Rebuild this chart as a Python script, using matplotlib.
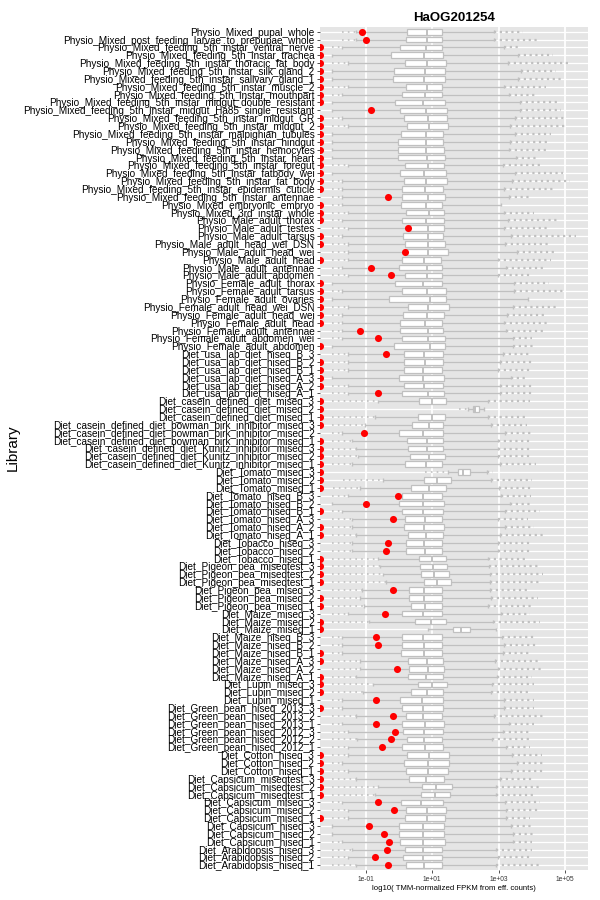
import numpy as np
import matplotlib
matplotlib.use("Agg")
import matplotlib.pyplot as plt
from matplotlib.ticker import FixedLocator, FixedFormatter, NullLocator
from matplotlib.textpath import TextPath
from matplotlib.font_manager import FontProperties

plt.rcParams['font.family'] = ['Liberation Sans', 'DejaVu Sans']

Z = float('-inf')  # zero expression -> plotted at -Inf (panel edge)

libraries = [
    "Physio_Mixed_pupal_whole",
    "Physio_Mixed_post_feeding_larvae_to_prepupae_whole",
    "Physio_Mixed_feeding_5th_instar_ventral_nerve",
    "Physio_Mixed_feeding_5th_instar_trachea",
    "Physio_Mixed_feeding_5th_instar_thoracic_fat_body",
    "Physio_Mixed_feeding_5th_instar_silk_gland_2",
    "Physio_Mixed_feeding_5th_instar_salivary_gland_1",
    "Physio_Mixed_feeding_5th_instar_muscle_2",
    "Physio_Mixed_feeding_5th_instar_mouthpart",
    "Physio_Mixed_feeding_5th_instar_midgut_double_resistant",
    "Physio_Mixed_feeding_5th_instar_midgut_Ha85_single_resistant",
    "Physio_Mixed_feeding_5th_instar_midgut_GR",
    "Physio_Mixed_feeding_5th_instar_midgut_2",
    "Physio_Mixed_feeding_5th_instar_malpighian_tubules",
    "Physio_Mixed_feeding_5th_instar_hindgut",
    "Physio_Mixed_feeding_5th_instar_hemocytes",
    "Physio_Mixed_feeding_5th_instar_heart",
    "Physio_Mixed_feeding_5th_instar_foregut",
    "Physio_Mixed_feeding_5th_instar_fatbody_wei",
    "Physio_Mixed_feeding_5th_instar_fat_body",
    "Physio_Mixed_feeding_5th_instar_epidermis_cuticle",
    "Physio_Mixed_feeding_5th_instar_antennae",
    "Physio_Mixed_embryonic_embryo",
    "Physio_Mixed_3rd_instar_whole",
    "Physio_Male_adult_thorax",
    "Physio_Male_adult_testes",
    "Physio_Male_adult_tarsus",
    "Physio_Male_adult_head_wei_DSN",
    "Physio_Male_adult_head_wei",
    "Physio_Male_adult_head",
    "Physio_Male_adult_antennae",
    "Physio_Male_adult_abdomen",
    "Physio_Female_adult_thorax",
    "Physio_Female_adult_tarsus",
    "Physio_Female_adult_ovaries",
    "Physio_Female_adult_head_wei_DSN",
    "Physio_Female_adult_head_wei",
    "Physio_Female_adult_head",
    "Physio_Female_adult_antennae",
    "Physio_Female_adult_abdomen_wei",
    "Physio_Female_adult_abdomen",
    "Diet_usa_lab_diet_hiseq_B_3",
    "Diet_usa_lab_diet_hiseq_B_2",
    "Diet_usa_lab_diet_hiseq_B_1",
    "Diet_usa_lab_diet_hiseq_A_3",
    "Diet_usa_lab_diet_hiseq_A_2",
    "Diet_usa_lab_diet_hiseq_A_1",
    "Diet_casein_defined_diet_miseq_3",
    "Diet_casein_defined_diet_miseq_2",
    "Diet_casein_defined_diet_miseq_1",
    "Diet_casein_defined_diet_bowman_birk_inhibitor_miseq_3",
    "Diet_casein_defined_diet_bowman_birk_inhibitor_miseq_2",
    "Diet_casein_defined_diet_bowman_birk_inhibitor_miseq_1",
    "Diet_casein_defined_diet_Kunitz_inhibitor_miseq_3",
    "Diet_casein_defined_diet_Kunitz_inhibitor_miseq_2",
    "Diet_casein_defined_diet_Kunitz_inhibitor_miseq_1",
    "Diet_Tomato_miseq_3",
    "Diet_Tomato_miseq_2",
    "Diet_Tomato_miseq_1",
    "Diet_Tomato_hiseq_B_3",
    "Diet_Tomato_hiseq_B_2",
    "Diet_Tomato_hiseq_B_1",
    "Diet_Tomato_hiseq_A_3",
    "Diet_Tomato_hiseq_A_2",
    "Diet_Tomato_hiseq_A_1",
    "Diet_Tobacco_hiseq_3",
    "Diet_Tobacco_hiseq_2",
    "Diet_Tobacco_hiseq_1",
    "Diet_Pigeon_pea_miseqtest_3",
    "Diet_Pigeon_pea_miseqtest_2",
    "Diet_Pigeon_pea_miseqtest_1",
    "Diet_Pigeon_pea_miseq_3",
    "Diet_Pigeon_pea_miseq_2",
    "Diet_Pigeon_pea_miseq_1",
    "Diet_Maize_miseq_3",
    "Diet_Maize_miseq_2",
    "Diet_Maize_miseq_1",
    "Diet_Maize_hiseq_B_3",
    "Diet_Maize_hiseq_B_2",
    "Diet_Maize_hiseq_B_1",
    "Diet_Maize_hiseq_A_3",
    "Diet_Maize_hiseq_A_2",
    "Diet_Maize_hiseq_A_1",
    "Diet_Lupin_miseq_3",
    "Diet_Lupin_miseq_2",
    "Diet_Lupin_miseq_1",
    "Diet_Green_bean_hiseq_2013_3",
    "Diet_Green_bean_hiseq_2013_2",
    "Diet_Green_bean_hiseq_2013_1",
    "Diet_Green_bean_hiseq_2012_3",
    "Diet_Green_bean_hiseq_2012_2",
    "Diet_Green_bean_hiseq_2012_1",
    "Diet_Cotton_hiseq_3",
    "Diet_Cotton_hiseq_2",
    "Diet_Cotton_hiseq_1",
    "Diet_Capsicum_miseqtest_3",
    "Diet_Capsicum_miseqtest_2",
    "Diet_Capsicum_miseqtest_1",
    "Diet_Capsicum_miseq_3",
    "Diet_Capsicum_miseq_2",
    "Diet_Capsicum_miseq_1",
    "Diet_Capsicum_hiseq_3",
    "Diet_Capsicum_hiseq_2",
    "Diet_Capsicum_hiseq_1",
    "Diet_Arabidopsis_hiseq_3",
    "Diet_Arabidopsis_hiseq_2",
    "Diet_Arabidopsis_hiseq_1",
]

# log10 values (top row first)
low_outlier_min = [-1.72, -1.72, -2.03, -2.03, -2.03, -2.03, -2.03, -2.03, -2.03, -2.03,
                   -2.03, -2.03, -2.03, -2.03, -2.03, -2.03, -2.03, -2.03, -2.03, -2.03,
                   -2.03, -2.03, -2.03, -2.03, -2.03, -2.03, -2.03, -2.03, -2.03, -2.03,
                   -2.03, -2.03, -2.03, -2.03, -2.03, -2.03, -2.03, -2.03, -2.03, -2.03,
                   -2.03, -2.03, -2.03, -2.03, -2.03, -2.03, -2.03, -2.03, 1.82, -2.03,
                   -2.03, -2.03, -2.03, -2.03, -2.03, -2.03, 0.78, -1.70, -2.00, -2.03,
                   -2.03, -2.03, -2.03, -2.03, -2.03, -2.03, -2.03, -2.03, -2.03, -2.03,
                   -2.03, -2.03, -2.03, -2.03, -2.03, -2.03, 0.88, -2.03, -2.03, -2.03,
                   -2.03, -2.03, -2.03, -2.03, -2.03, -2.03, -2.03, -2.03, -2.03, -2.03,
                   -2.03, -2.03, -2.03, -2.03, -2.03, -2.03, -2.03, -2.03, -2.03, -2.03,
                   -2.03, -2.03, -2.03, -2.03, -2.03, -2.03, -2.03]
whisker_low = [-1.29, -1.31, -1.72, -2.03, -1.54, -2.03, -2.03, -1.54, -1.72, -2.03,
               -2.03, -1.72, -1.54, -2.03, -2.03, -2.03, -2.03, -1.54, -2.03, -1.72,
               -1.72, -1.72, -1.72, -1.54, -1.72, -1.54, -1.72, -1.54, -1.54, -1.54,
               -1.72, -1.54, -2.03, -1.72, -2.03, -1.54, -1.72, -1.72, -1.72, -1.72,
               -2.03, -1.54, -1.54, -1.54, -2.03, -1.54, -1.54, -0.62, 2.07, -0.71,
               -1.03, -1.72, -1.43, -1.31, -1.23, -1.43, 1.46, -0.47, -1.17, -1.54,
               -2.03, -1.72, -1.43, -1.43, -1.31, -1.43, -1.43, -0.62, -0.56, -0.48,
               -0.39, -1.12, -1.17, -1.06, -1.54, -0.91, 0.88, -1.72, -1.72, -1.72,
               -1.17, -1.17, -1.31, -0.77, -1.08, -1.72, -1.72, -1.31, -1.72, -1.54,
               -1.26, -1.54, -1.54, -1.72, -1.54, -1.31, -0.62, -0.71, -1.72, -1.54,
               -1.54, -2.03, -2.03, -1.72, -1.43, -1.54, -1.31]
q1 = [0.23, 0.21, 0.04, -0.23, 0.17, -0.16, -0.18, 0.21, 0.09, -0.11,
      0.03, 0.14, 0.23, 0.06, -0.02, -0.02, -0.02, 0.17, 0.03, 0.14,
      0.09, 0.09, 0.06, 0.21, 0.09, 0.27, 0.13, 0.19, 0.19, 0.09,
      0.00, 0.17, -0.11, 0.09, -0.30, 0.26, 0.13, 0.03, 0.03, 0.09,
      -0.14, 0.15, 0.15, 0.15, 0.00, 0.15, 0.09, 0.61, 2.23, 0.56,
      0.38, 0.00, 0.23, 0.27, 0.33, 0.17, 1.78, 0.76, 0.37, 0.10,
      0.00, 0.09, 0.19, 0.14, 0.27, 0.21, 0.21, 0.59, 0.64, 0.67,
      0.74, 0.30, 0.30, 0.35, 0.09, 0.48, 1.63, 0.09, 0.09, 0.06,
      0.28, 0.29, 0.26, 0.56, 0.36, 0.03, 0.09, 0.21, 0.09, 0.12,
      0.23, 0.09, 0.23, 0.15, 0.21, 0.29, 0.69, 0.65, 0.06, 0.21,
      0.17, 0.00, 0.00, 0.04, 0.17, 0.12, 0.21]
median = [0.84, 0.84, 0.81, 0.75, 0.84, 0.79, 0.76, 0.84, 0.79, 0.73,
          0.81, 0.87, 0.90, 0.81, 0.81, 0.82, 0.84, 0.88, 0.76, 0.82,
          0.79, 0.87, 0.81, 0.90, 0.81, 0.88, 0.87, 0.87, 0.87, 0.75,
          0.84, 0.84, 0.71, 0.84, 0.92, 0.88, 0.84, 0.79, 0.87, 0.87,
          0.92, 0.76, 0.79, 0.71, 0.73, 0.76, 0.87, 1.00, 2.28, 1.00,
          0.90, 0.73, 0.84, 0.84, 0.90, 0.81, 1.93, 1.15, 0.90, 0.71,
          0.71, 0.73, 0.79, 0.76, 0.82, 0.75, 0.79, 0.99, 1.02, 1.05,
          1.13, 0.75, 0.76, 0.79, 0.71, 0.96, 1.88, 0.73, 0.75, 0.75,
          0.84, 0.87, 0.81, 0.99, 0.84, 0.69, 0.73, 0.73, 0.79, 0.76,
          0.76, 0.79, 0.90, 0.87, 0.88, 0.82, 1.11, 1.07, 0.65, 0.84,
          0.84, 0.71, 0.71, 0.73, 0.71, 0.71, 0.75]
q3 = [1.28, 1.28, 1.28, 1.33, 1.41, 1.39, 1.37, 1.28, 1.30, 1.39,
      1.45, 1.45, 1.48, 1.33, 1.33, 1.36, 1.39, 1.36, 1.41, 1.43,
      1.33, 1.39, 1.28, 1.36, 1.36, 1.36, 1.33, 1.39, 1.48, 1.25,
      1.28, 1.28, 1.30, 1.42, 1.42, 1.50, 1.36, 1.28, 1.33, 1.39,
      1.39, 1.33, 1.33, 1.28, 1.34, 1.33, 1.36, 1.42, 2.40, 1.39,
      1.33, 1.33, 1.33, 1.33, 1.39, 1.30, 2.14, 1.56, 1.42, 1.29,
      1.34, 1.33, 1.28, 1.36, 1.33, 1.30, 1.30, 1.42, 1.44, 1.50,
      1.56, 1.28, 1.28, 1.28, 1.28, 1.42, 2.13, 1.28, 1.30, 1.28,
      1.33, 1.36, 1.33, 1.45, 1.33, 1.33, 1.33, 1.28, 1.36, 1.33,
      1.28, 1.33, 1.50, 1.50, 1.48, 1.36, 1.59, 1.53, 1.33, 1.42,
      1.39, 1.34, 1.36, 1.39, 1.28, 1.28, 1.28]
whisker_high = [2.86, 2.86, 3.16, 3.58, 3.29, 3.66, 3.59, 3.16, 3.32, 3.63,
                3.63, 3.50, 3.34, 3.50, 3.34, 3.32, 3.53, 3.12, 3.50, 3.40,
                3.16, 3.32, 3.07, 3.16, 3.29, 3.16, 3.36, 3.20, 3.55, 2.97,
                3.23, 2.97, 3.47, 3.46, 3.89, 3.43, 3.24, 3.16, 3.23, 3.43,
                3.43, 3.12, 3.03, 2.99, 3.38, 3.04, 3.04, 2.69, 2.57, 2.67,
                2.78, 3.20, 2.99, 2.99, 2.99, 3.04, 2.65, 2.76, 3.02, 3.07,
                3.34, 3.18, 2.97, 3.18, 3.04, 2.97, 2.97, 2.67, 2.71, 2.74,
                2.74, 2.74, 2.78, 2.69, 3.07, 2.84, 2.92, 3.09, 3.16, 3.12,
                2.90, 2.97, 2.95, 2.80, 2.78, 3.16, 3.16, 2.86, 3.30, 3.12,
                2.80, 3.23, 3.40, 3.55, 3.36, 3.03, 2.92, 2.92, 3.20, 3.23,
                3.23, 3.36, 3.44, 3.44, 2.92, 2.97, 2.92]
high_outlier_max = [3.72, 4.19, 3.58, 4.65, 5.14, 4.73, 4.93, 4.42, 4.12, 4.77,
                    4.87, 5.05, 4.99, 4.59, 4.45, 4.53, 4.12, 4.35, 4.93, 5.16,
                    4.71, 4.01, 3.07, 4.07, 4.77, 4.53, 5.34, 4.58, 4.71, 4.58,
                    4.38, 4.01, 4.53, 4.99, 3.89, 4.81, 4.47, 4.53, 4.35, 3.99,
                    4.03, 3.95, 4.01, 4.01, 3.89, 3.99, 4.01, 3.95, 2.57, 3.87,
                    3.84, 3.99, 3.95, 3.95, 3.95, 4.12, 2.82, 4.00, 3.96, 3.96,
                    3.95, 4.24, 3.89, 4.07, 4.35, 4.01, 3.95, 3.89, 4.19, 4.35,
                    4.24, 3.95, 4.19, 4.01, 3.95, 4.24, 2.92, 4.07, 4.12, 3.95,
                    4.19, 4.35, 4.01, 4.07, 3.89, 4.07, 4.07, 4.35, 4.07, 3.95,
                    3.95, 3.95, 4.30, 4.35, 4.35, 4.07, 4.24, 4.07, 4.24, 4.19,
                    3.95, 4.01, 4.12, 4.01, 4.01, 3.95, 4.24]
# expression of HaOG201254 in each library (log10 FPKM; Z = zero)
gene_value = [-1.13, -0.98, Z, Z, Z, Z, Z, Z, Z, Z,
              -0.84, Z, Z, Z, Z, Z, Z, Z, Z, Z,
              Z, -0.33, Z, Z, Z, 0.27, Z, Z, 0.19, Z,
              -0.84, -0.25, Z, Z, Z, Z, Z, Z, -1.17, -0.62,
              Z, -0.39, Z, Z, Z, Z, -0.62, Z, Z, Z,
              Z, -1.06, Z, Z, Z, Z, Z, Z, Z, -0.02,
              -0.98, Z, -0.19, Z, Z, -0.34, -0.39, Z, Z, Z,
              Z, -0.19, Z, Z, -0.42, Z, Z, -0.68, -0.63, Z,
              Z, -0.06, Z, Z, Z, -0.68, Z, -0.19, -0.69, -0.11,
              -0.23, -0.52, Z, Z, Z, Z, Z, Z, -0.63, -0.16,
              Z, -0.91, -0.44, -0.29, -0.37, -0.71, -0.34]

title = "HaOG201254"
xlabel = "log10( TMM-normalized FPKM from eff. counts)"
ylabel = "Library"
x_ticks = [1e-1, 1e1, 1e3, 1e5]
x_ticklabels = ["1e-01", "1e+01", "1e+03", "1e+05"]

# ---------------------------------------------------------------
DPI = 100
# pick the label size so that the longest label spans ~289 px, as in the reference
fp = FontProperties(family='Liberation Sans', size=10)
longest = max(libraries, key=lambda s: TextPath((0, 0), s, prop=fp).get_extents().width)
w10 = TextPath((0, 0), longest, prop=fp).get_extents().width * DPI / 72.0
label_size = 10 * 289.0 / w10

fig = plt.figure(figsize=(6, 9), dpi=DPI)
ax = fig.add_axes([320 / 600, 30 / 900, 268 / 600, 843 / 900])
ax.set_facecolor('#E5E5E5')
ax.set_xscale('log')
xmin, xmax = 10 ** -2.38, 10 ** 5.69
ax.set_xlim(xmin, xmax)
n = len(libraries)
ax.set_ylim(n - 0.4, -0.6)

box_col = '#C0C0C0'
y = np.arange(n)
p = lambda v: np.power(10.0, np.asarray(v, dtype=float))

# grid
for t in x_ticks:
    ax.axvline(t, color='white', lw=1.3, zorder=0)
for yi in y:
    ax.axhline(yi, color='white', lw=0.9, zorder=0)

# outliers (shown as dotted runs of points)
ax.hlines(y, p(low_outlier_min), p(whisker_low), colors=box_col, lw=1.2,
          linestyles=(0, (1, 2.5)), zorder=1)
ax.hlines(y, p(whisker_high), p(high_outlier_max), colors=box_col, lw=1.6,
          linestyles=(0, (1, 1.6)), zorder=1)
# whiskers
ax.hlines(y, p(whisker_low), p(q1), colors=box_col, lw=1.0, zorder=1)
ax.hlines(y, p(q3), p(whisker_high), colors=box_col, lw=1.0, zorder=1)
ax.vlines(p(whisker_low), y - 0.22, y + 0.22, colors=box_col, lw=1.0, zorder=1)
ax.vlines(p(whisker_high), y - 0.22, y + 0.22, colors=box_col, lw=1.0, zorder=1)
# boxes
ax.barh(y, p(q3) - p(q1), left=p(q1), height=0.72, color='white',
        edgecolor=box_col, linewidth=0.9, zorder=2)
ax.vlines(p(median), y - 0.36, y + 0.36, colors=box_col, lw=1.4, zorder=3)

# gene points (zero values sit at -Inf, i.e. the panel edge)
gx = p(gene_value)
gx = np.where(gx > 0, gx, xmin)
ax.scatter(gx, y, s=26, color='red', zorder=4, clip_on=True, linewidths=0)

# axes styling
for s in ax.spines.values():
    s.set_visible(False)
ax.xaxis.set_major_locator(FixedLocator(x_ticks))
ax.xaxis.set_major_formatter(FixedFormatter(x_ticklabels))
ax.xaxis.set_minor_locator(NullLocator())
ax.set_yticks(y)
ax.set_yticklabels(libraries)
ax.tick_params(axis='y', length=2.5, width=0.6, color='#333333', pad=1.5,
               labelsize=label_size, labelcolor='black')
ax.tick_params(axis='x', length=2, width=0.6, color='#333333', pad=2,
               labelsize=4.8, labelcolor='#333333')

ax.set_title(title, fontsize=9.5, fontweight='bold', pad=4)
ax.set_xlabel(xlabel, fontsize=5.6, labelpad=2)
fig.text(13 / 600, 1 - 448 / 900, ylabel, rotation=90, fontsize=11,
         ha='center', va='center')

fig.savefig('out.png', dpi=DPI)
